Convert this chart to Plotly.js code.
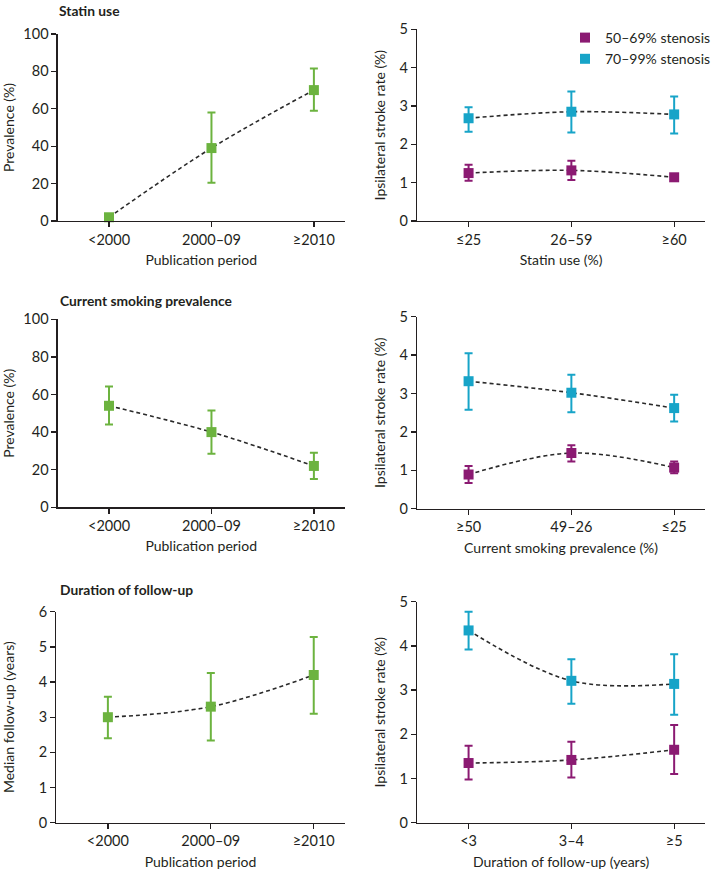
<!DOCTYPE html>
<html>
<head>
<meta charset="utf-8">
<script src="https://cdn.plot.ly/plotly-3.0.1.min.js"></script>
<style>html,body{margin:0;padding:0;background:#fff;}#chart{width:716px;height:872px;}</style>
</head>
<body>
<div id="chart"></div>
<script>
// ---- Data ----
var pubPeriods = ['<2000', '2000–09', '≥2010'];
var statinPrev = [2, 39, 70];
var statinPrevLo = [2, 20.5, 59];
var statinPrevHi = [2, 58, 81.5];

var statinCats = ['≤25', '26–59', '≥60'];
var statin5069 = [1.25, 1.32, 1.14];
var statin5069Lo = [1.05, 1.07, 1.07];
var statin5069Hi = [1.47, 1.57, 1.21];
var statin7099 = [2.68, 2.85, 2.78];
var statin7099Lo = [2.33, 2.31, 2.28];
var statin7099Hi = [2.97, 3.38, 3.25];

var smokePrev = [54, 40, 22];
var smokePrevLo = [44, 28.5, 15];
var smokePrevHi = [64.3, 51.5, 29];

var smokeCats = ['≥50', '49–26', '≤25'];
var smoke5069 = [0.89, 1.45, 1.07];
var smoke5069Lo = [0.67, 1.23, 0.92];
var smoke5069Hi = [1.11, 1.65, 1.23];
var smoke7099 = [3.32, 3.02, 2.62];
var smoke7099Lo = [2.58, 2.51, 2.27];
var smoke7099Hi = [4.05, 3.49, 2.97];

var followup = [3.0, 3.3, 4.2];
var followupLo = [2.4, 2.34, 3.1];
var followupHi = [3.58, 4.26, 5.28];

var fuCats = ['<3', '3–4', '≥5'];
var fu5069 = [1.35, 1.42, 1.65];
var fu5069Lo = [0.98, 1.02, 1.1];
var fu5069Hi = [1.74, 1.83, 2.21];
var fu7099 = [4.35, 3.21, 3.14];
var fu7099Lo = [3.92, 2.69, 2.44];
var fu7099Hi = [4.77, 3.7, 3.81];

var seriesNames = ['50–69% stenosis', '70–99% stenosis'];

// ---- Styles ----
var GREEN = '#6cb33f', PURPLE = '#8b1a72', CYAN = '#17a4c8', INK = '#231f20';
var FONT = 'Lato, "Open Sans", sans-serif';

function diff(a, b) { return a.map(function (v, i) { return v - b[i]; }); }

function lineTrace(x, y, ax) {
  return {
    x: x, y: y, xaxis: 'x' + ax, yaxis: 'y' + ax, type: 'scatter', mode: 'lines',
    line: { color: '#2a2a2a', width: 1.6, dash: '4px,3px', shape: 'spline', smoothing: 1 },
    showlegend: false, hoverinfo: 'skip'
  };
}
function pointTrace(x, y, lo, hi, ax, color, name, legend) {
  return {
    x: x, y: y, xaxis: 'x' + ax, yaxis: 'y' + ax, type: 'scatter', mode: 'markers',
    name: name || '', showlegend: !!legend, cliponaxis: false,
    marker: { symbol: 'square', size: 10, color: color, line: { width: 0 } },
    error_y: { type: 'data', symmetric: false, array: diff(hi, y), arrayminus: diff(y, lo),
      color: color, thickness: 2, width: 4 }
  };
}

var data = [
  lineTrace(pubPeriods, statinPrev, ''),
  pointTrace(pubPeriods, statinPrev, statinPrevLo, statinPrevHi, '', GREEN),

  lineTrace(statinCats, statin5069, '2'),
  lineTrace(statinCats, statin7099, '2'),
  pointTrace(statinCats, statin5069, statin5069Lo, statin5069Hi, '2', PURPLE, seriesNames[0], true),
  pointTrace(statinCats, statin7099, statin7099Lo, statin7099Hi, '2', CYAN, seriesNames[1], true),

  lineTrace(pubPeriods, smokePrev, '3'),
  pointTrace(pubPeriods, smokePrev, smokePrevLo, smokePrevHi, '3', GREEN),

  lineTrace(smokeCats, smoke5069, '4'),
  lineTrace(smokeCats, smoke7099, '4'),
  pointTrace(smokeCats, smoke5069, smoke5069Lo, smoke5069Hi, '4', PURPLE),
  pointTrace(smokeCats, smoke7099, smoke7099Lo, smoke7099Hi, '4', CYAN),

  lineTrace(pubPeriods, followup, '5'),
  pointTrace(pubPeriods, followup, followupLo, followupHi, '5', GREEN),

  lineTrace(fuCats, fu5069, '6'),
  lineTrace(fuCats, fu7099, '6'),
  pointTrace(fuCats, fu5069, fu5069Lo, fu5069Hi, '6', PURPLE),
  pointTrace(fuCats, fu7099, fu7099Lo, fu7099Hi, '6', CYAN)
];

var W = 716, H = 872;
function xd(l, r) { return [l / W, r / W]; }
function yd(top, bottom) { return [(H - bottom) / H, (H - top) / H]; }

function xaxis(dom, anchor, title) {
  return {
    domain: dom, anchor: anchor, type: 'category', range: [-0.5, 2.3],
    showline: true, linecolor: INK, linewidth: 1.3, showgrid: false, zeroline: false,
    ticks: 'outside', ticklen: 5, tickwidth: 1.3, tickcolor: INK,
    tickfont: { family: FONT, size: 14.5, color: INK },
    title: { text: title, font: { family: FONT, size: 14, color: INK }, standoff: 8 },
    fixedrange: true
  };
}
function yaxis(dom, anchor, range, dtick, title, standoff) {
  return {
    domain: dom, anchor: anchor, range: range, dtick: dtick,
    showline: true, linecolor: INK, linewidth: 1.3, showgrid: false, zeroline: false,
    ticks: 'outside', ticklen: 5, tickwidth: 1.3, tickcolor: INK,
    tickfont: { family: FONT, size: 14.5, color: INK },
    title: { text: title, font: { family: FONT, size: 14, color: INK }, standoff: standoff },
    fixedrange: true
  };
}

var L = xd(58.7, 350), R = xd(423.7, 716);

var layout = {
  width: W, height: H,
  margin: { l: 0, r: 0, t: 0, b: 0 },
  paper_bgcolor: '#fff', plot_bgcolor: 'rgba(0,0,0,0)',
  font: { family: FONT, color: INK },
  showlegend: true,
  legend: { x: 574 / W, xanchor: 'left', y: (H - 22) / H, yanchor: 'top',
    bgcolor: 'rgba(0,0,0,0)', font: { family: FONT, size: 14, color: INK },
    tracegroupgap: 0, itemwidth: 30 },

  xaxis: xaxis(L, 'y', 'Publication period'),
  yaxis: yaxis(yd(34, 221), 'x', [0, 100], 20, 'Prevalence (%)', 10),

  xaxis2: xaxis(R, 'y2', 'Statin use (%)'),
  yaxis2: yaxis(yd(29.3, 221), 'x2', [0, 5], 1, 'Ipsilateral stroke rate (%)', 10),

  xaxis3: xaxis(L, 'y3', 'Publication period'),
  yaxis3: yaxis(yd(319.3, 507.3), 'x3', [0, 100], 20, 'Prevalence (%)', 10),

  xaxis4: xaxis(R, 'y4', 'Current smoking prevalence (%)'),
  yaxis4: yaxis(yd(316.7, 508.7), 'x4', [0, 5], 1, 'Ipsilateral stroke rate (%)', 10),

  xaxis5: xaxis(xd(57.3, 350), 'y5', 'Publication period'),
  yaxis5: yaxis(yd(611.7, 822.7), 'x5', [0, 6], 1, 'Median follow-up (years)', 23),

  xaxis6: xaxis(R, 'y6', 'Duration of follow-up (years)'),
  yaxis6: yaxis(yd(601.7, 822.7), 'x6', [0, 5], 1, 'Ipsilateral stroke rate (%)', 10),

  annotations: [
    { text: '<b>Statin use</b>', x: 58 / W, y: 1, yanchor: 'top' },
    { text: '<b>Current smoking prevalence</b>', x: 59 / W, y: (H - 300.7) / H, yanchor: 'middle' },
    { text: '<b>Duration of follow-up</b>', x: 59 / W, y: (H - 589.3) / H, yanchor: 'middle' }
  ].map(function (a) {
    a.xref = 'paper'; a.yref = 'paper'; a.xanchor = 'left';
    a.showarrow = false; a.font = { family: FONT, size: 13.8, color: INK };
    return a;
  })
};

Plotly.newPlot('chart', data, layout, { staticPlot: true, displayModeBar: false });
</script>
</body>
</html>
